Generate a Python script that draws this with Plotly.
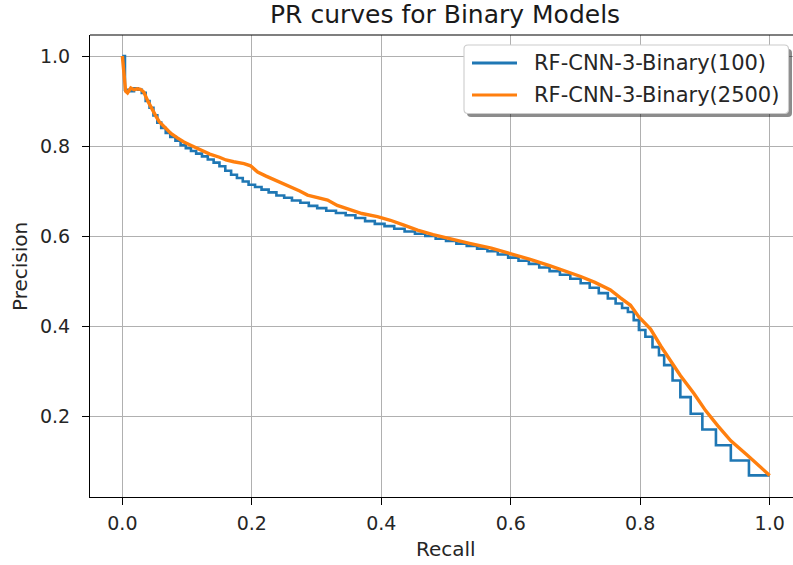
import plotly.graph_objects as go

# ---------------- data ----------------
blue_name = "RF-CNN-3-Binary(100)"
orange_name = "RF-CNN-3-Binary(2500)"

blue_recall = [0.000, 0.004, 0.010, 0.018, 0.024, 0.030, 0.036, 0.042, 0.048, 0.054,
               0.060, 0.067, 0.074, 0.082, 0.090, 0.098, 0.106, 0.114, 0.123, 0.132,
               0.141, 0.150, 0.159, 0.168, 0.177, 0.186, 0.195, 0.205, 0.215, 0.226,
               0.238, 0.250, 0.262, 0.275, 0.288, 0.301, 0.315, 0.330, 0.345, 0.360,
               0.375, 0.390, 0.405, 0.420, 0.436, 0.452, 0.468, 0.484, 0.500, 0.516,
               0.532, 0.548, 0.564, 0.580, 0.596, 0.612, 0.628, 0.644, 0.660, 0.676,
               0.692, 0.708, 0.722, 0.736, 0.750, 0.762, 0.772, 0.781, 0.790, 0.798,
               0.808, 0.819, 0.829, 0.837, 0.850, 0.862, 0.878, 0.896, 0.917, 0.940,
               0.968, 1.000]
blue_precision = [1.000, 1.000, 0.925, 0.922, 0.928, 0.925, 0.918, 0.900, 0.885, 0.868,
                  0.852, 0.840, 0.829, 0.820, 0.812, 0.802, 0.795, 0.789, 0.783, 0.777,
                  0.770, 0.763, 0.755, 0.745, 0.736, 0.729, 0.721, 0.714, 0.709, 0.703,
                  0.697, 0.690, 0.685, 0.679, 0.674, 0.667, 0.662, 0.656, 0.651, 0.646,
                  0.640, 0.633, 0.627, 0.622, 0.616, 0.610, 0.605, 0.600, 0.594, 0.589,
                  0.583, 0.578, 0.572, 0.566, 0.559, 0.552, 0.545, 0.538, 0.530, 0.522,
                  0.514, 0.505, 0.495, 0.485, 0.473, 0.461, 0.450, 0.440, 0.431, 0.413,
                  0.391, 0.376, 0.353, 0.335, 0.313, 0.279, 0.242, 0.205, 0.170, 0.135,
                  0.101, 0.068]

orange_recall = [0.000, 0.005, 0.008, 0.013, 0.018, 0.023, 0.028, 0.033, 0.040, 0.046,
                 0.052, 0.057, 0.065, 0.075, 0.085, 0.095, 0.108, 0.121, 0.135, 0.150,
                 0.160, 0.172, 0.188, 0.198, 0.209, 0.222, 0.236, 0.250, 0.262, 0.274,
                 0.286, 0.300, 0.317, 0.332, 0.350, 0.370, 0.394, 0.414, 0.435, 0.456,
                 0.480, 0.505, 0.538, 0.570, 0.600, 0.630, 0.660, 0.685, 0.708, 0.730,
                 0.754, 0.770, 0.785, 0.798, 0.816, 0.832, 0.847, 0.862, 0.883, 0.901,
                 0.920, 0.940, 0.966, 0.985, 1.000]
orange_precision = [1.000, 0.922, 0.918, 0.929, 0.925, 0.927, 0.926, 0.920, 0.898, 0.880,
                    0.866, 0.854, 0.842, 0.828, 0.818, 0.809, 0.800, 0.791, 0.782, 0.775,
                    0.769, 0.765, 0.761, 0.756, 0.742, 0.733, 0.724, 0.716, 0.709, 0.700,
                    0.691, 0.686, 0.680, 0.668, 0.660, 0.650, 0.643, 0.635, 0.624, 0.613,
                    0.603, 0.594, 0.583, 0.573, 0.561, 0.548, 0.534, 0.522, 0.510, 0.497,
                    0.480, 0.462, 0.446, 0.420, 0.393, 0.355, 0.324, 0.290, 0.250, 0.212,
                    0.178, 0.145, 0.112, 0.088, 0.068]

x_ticks = [0.0, 0.2, 0.4, 0.6, 0.8, 1.0]
y_ticks = [0.2, 0.4, 0.6, 0.8, 1.0]
title_text = "PR curves for Binary Models"
x_label = "Recall"
y_label = "Precision"

# ---------------- layout helpers ----------------
W, H = 793, 565
L, R, T, B = 90, 0, 35, 68
PW, PH = W - L - R, H - T - B
FONT = "DejaVu Sans"
BLUE, ORANGE = "#1f77b4", "#ff7f0e"
TXT = "#262626"


def fx(p):
    return (p - L) / PW


def fy(p):
    return (H - B - p) / PH


fig = go.Figure()
fig.add_trace(go.Scatter(x=blue_recall, y=blue_precision, mode="lines", name=blue_name,
                         line=dict(color=BLUE, width=2.6, shape="vh"), showlegend=False))
fig.add_trace(go.Scatter(x=orange_recall, y=orange_precision, mode="lines", name=orange_name,
                         line=dict(color=ORANGE, width=3.4), showlegend=False))

axis_common = dict(showgrid=True, gridcolor="#b0b0b0", gridwidth=1.1, zeroline=False,
                   showline=True, linecolor="black", linewidth=1.2,
                   ticks="outside", ticklen=7, tickwidth=1.2, tickcolor="black",
                   tickfont=dict(family=FONT, size=19, color=TXT))

fig.update_xaxes(range=[-0.05, -0.05 + PW / 647.3], tickvals=x_ticks,
                 ticktext=[f"{v:.1f}" for v in x_ticks], ticklabelstandoff=2, **axis_common)
fig.update_yaxes(range=[0.02, 0.02 + PH / 450.0], tickvals=y_ticks,
                 ticktext=[f"{v:.1f}" for v in y_ticks], ticklabelstandoff=8, **axis_common)


def rounded(x0, y0, x1, y1, r):
    # pixel coords -> paper path with rounded corners
    pts = []
    pts.append(f"M{fx(x0 + r)},{fy(y0)}")
    pts.append(f"L{fx(x1 - r)},{fy(y0)}")
    pts.append(f"Q{fx(x1)},{fy(y0)} {fx(x1)},{fy(y0 + r)}")
    pts.append(f"L{fx(x1)},{fy(y1 - r)}")
    pts.append(f"Q{fx(x1)},{fy(y1)} {fx(x1 - r)},{fy(y1)}")
    pts.append(f"L{fx(x0 + r)},{fy(y1)}")
    pts.append(f"Q{fx(x0)},{fy(y1)} {fx(x0)},{fy(y1 - r)}")
    pts.append(f"L{fx(x0)},{fy(y0 + r)}")
    pts.append(f"Q{fx(x0)},{fy(y0)} {fx(x0 + r)},{fy(y0)}")
    pts.append("Z")
    return " ".join(pts)


shapes = [
    # top spine
    dict(type="line", xref="paper", yref="paper", x0=0, x1=1, y0=1, y1=1,
         line=dict(color="black", width=1.2), layer="above"),
    # legend shadow
    dict(type="path", xref="paper", yref="paper", path=rounded(467, 49, 792, 117, 4),
         fillcolor="rgba(0,0,0,0.45)", line=dict(width=0), layer="above"),
    # legend box
    dict(type="path", xref="paper", yref="paper", path=rounded(464, 45, 788.5, 113.5, 4),
         fillcolor="white", line=dict(color="#cccccc", width=1.1), layer="above"),
    # legend samples
    dict(type="line", xref="paper", yref="paper", x0=fx(472), x1=fx(517), y0=fy(63), y1=fy(63),
         line=dict(color=BLUE, width=2.8), layer="above"),
    dict(type="line", xref="paper", yref="paper", x0=fx(472), x1=fx(517), y0=fy(95), y1=fy(95),
         line=dict(color=ORANGE, width=2.8), layer="above"),
]

annotations = [
    dict(text=blue_name, xref="paper", yref="paper", x=fx(532), y=fy(63), xanchor="left",
         yanchor="middle", showarrow=False, font=dict(family=FONT, size=21, color=TXT)),
    dict(text=orange_name, xref="paper", yref="paper", x=fx(532), y=fy(95), xanchor="left",
         yanchor="middle", showarrow=False, font=dict(family=FONT, size=21, color=TXT)),
    dict(text=x_label, xref="paper", yref="paper", x=fx(445.5), y=fy(549), xanchor="center",
         yanchor="middle", showarrow=False, font=dict(family=FONT, size=20, color=TXT)),
    dict(text=y_label, xref="paper", yref="paper", x=fx(20), y=fy(267), xanchor="center",
         yanchor="middle", textangle=-90, showarrow=False,
         font=dict(family=FONT, size=20, color=TXT)),
    dict(text=title_text, xref="paper", yref="paper", x=fx(444.5), y=fy(14), xanchor="center",
         yanchor="middle", showarrow=False, font=dict(family=FONT, size=25, color="#1a1a1a")),
]

fig.update_layout(width=W, height=H, margin=dict(l=L, r=R, t=T, b=B),
                  paper_bgcolor="white", plot_bgcolor="white",
                  shapes=shapes, annotations=annotations, showlegend=False)

fig.write_html("out.html")
